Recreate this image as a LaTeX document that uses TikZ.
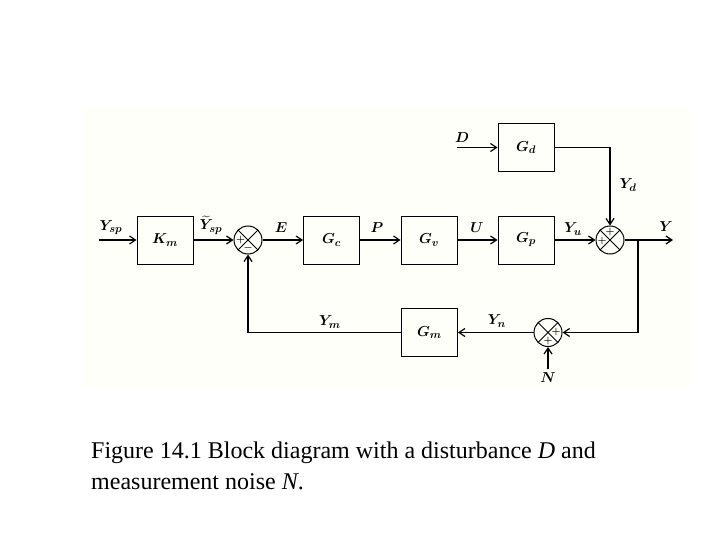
\documentclass[tikz,border=0pt]{standalone}
\usepackage{fontspec}
\usepackage{amsmath}
\usepackage{bm}
\usetikzlibrary{arrows.meta}
\newfontfamily\capfont{Liberation Serif}
\definecolor{scanbg}{RGB}{255,255,249}
\begin{document}
\begin{tikzpicture}[x=1pt,y=-1pt,
  blk/.style={draw,line width=0.9pt,minimum width=56pt,minimum height=48pt,inner sep=0pt,font=\fontsize{15}{17}\selectfont},
  sumj/.style={draw,circle,line width=1pt,minimum size=28pt,inner sep=0pt,
    path picture={\draw[line width=1pt] (path picture bounding box.north west) -- (path picture bounding box.south east)
      (path picture bounding box.north east) -- (path picture bounding box.south west);}},
  sig/.style={line width=1.3pt,-{Straight Barb[length=6pt,width=8pt,line width=1.2pt]}},
  lbl/.style={font=\fontsize{15}{17}\selectfont,inner sep=0pt},
  sgn/.style={font=\fontsize{10}{10}\selectfont\bfseries,inner sep=0pt},
  captext/.style={font=\capfont\fontsize{24}{31}\selectfont,inner sep=0pt,anchor=base west}]
\useasboundingbox (0,0) rectangle (720,540);
\fill[scanbg] (83,107) rectangle (690,388);
% blocks
\node[blk] (km) at (165,240) {$\bm{K_m}$};
\node[blk] (gc) at (331.5,240) {$\bm{G_c}$};
\node[blk] (gv) at (429,240) {$\bm{G_v}$};
\node[blk] (gp) at (526,240) {$\bm{G_p}$};
\node[blk] (gd) at (526,147.5) {$\bm{G_d}$};
\node[blk] (gm) at (429.5,332.5) {$\bm{G_m}$};
% summing junctions
\node[sumj] (s1) at (248,240) {};
\node[sumj] (s2) at (610,240) {};
\node[sumj] (s3) at (548,332.5) {};
% signs
\node[sgn] (s1a) at (240.5,240) {+};
\node[sgn] (s1b) at (248,248) {$\bm{-}$};
\node[sgn] (s2a) at (610,232) {+};
\node[sgn] (s2b) at (602,240.5) {+};
\node[sgn] (s3a) at (556,332) {+};
\node[sgn] (s3b) at (548,340.5) {+};
% free ends
\coordinate (yin) at (99,240);
\coordinate (yout) at (673,240);
\coordinate (din) at (457,147.5);
\coordinate (br) at (638,240);
\coordinate (nin) at (548,369);
% connectors
\draw[sig] (yin) -- (km.west);
\draw[sig] (km.east) -- (s1.west);
\draw[sig] (s1.east) -- (gc.west);
\draw[sig] (gc.east) -- (gv.west);
\draw[sig] (gv.east) -- (gp.west);
\draw[sig] (gp.east) -- (s2.west);
\draw[sig] (s2.east) -- (yout);
\draw[sig] (din) -- (gd.west);
\draw[sig] (gd.east) -| (s2.north);
\draw[sig] (br) |- (s3.east);
\draw[sig] (s3.west) -- (gm.east);
\draw[sig] (gm.west) -| (s1.south);
\draw[sig] (nin) -- (s3.south);
% labels
\node[lbl] (lysp) at (111,228) {$\bm{Y_{sp}}$};
\node[lbl] (lyspt) at (211,225) {$\widetilde{\bm{Y}}_{\bm{sp}}$};
\node[lbl] (le) at (281,228) {$\bm{E}$};
\node[lbl] (lp) at (377,228) {$\bm{P}$};
\node[lbl] (lu) at (477,228) {$\bm{U}$};
\node[lbl] (lyu) at (573,229) {$\bm{Y_u}$};
\node[lbl] (ly) at (666,227) {$\bm{Y}$};
\node[lbl] (ld) at (462,138) {$\bm{D}$};
\node[lbl] (lyd) at (628,185) {$\bm{Y_d}$};
\node[lbl] (lym) at (330,322) {$\bm{Y_m}$};
\node[lbl] (lyn) at (497,321) {$\bm{Y_n}$};
\node[lbl] (ln) at (548,378) {$\bm{N}$};
% caption
\node[captext] (c1) at (91,458) {Figure 14.1 Block diagram with a disturbance \textit{D} and};
\node[captext] (c2) at (91,489) {measurement noise \textit{N}.};
\end{tikzpicture}
\end{document}
